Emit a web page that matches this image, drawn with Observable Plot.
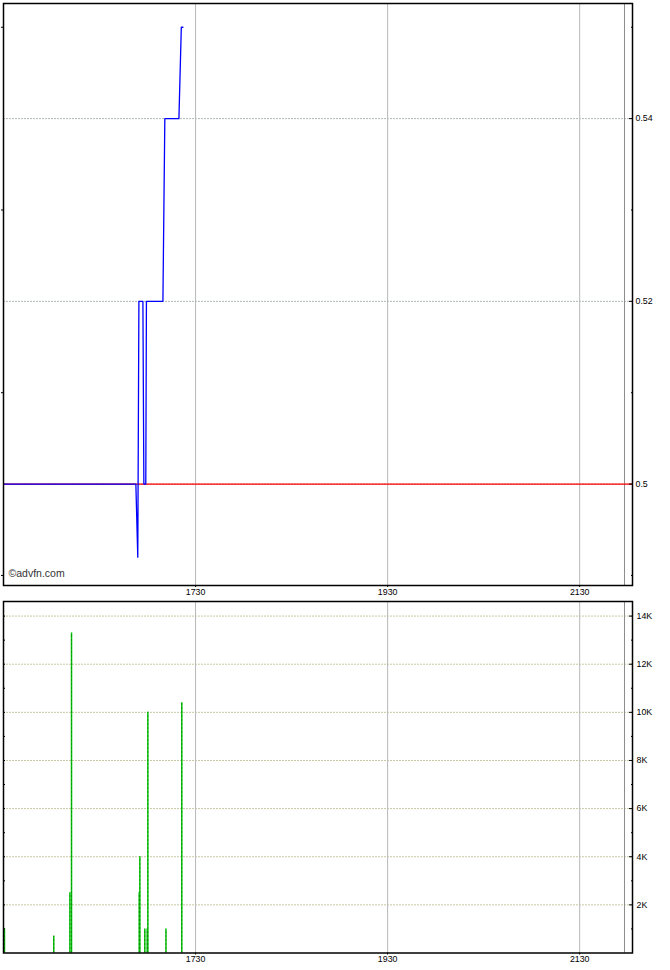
<!DOCTYPE html>
<html>
<head>
<meta charset="utf-8">
<script src="https://cdn.jsdelivr.net/npm/d3@7"></script>
<script src="https://cdn.jsdelivr.net/npm/@observablehq/plot@0.6"></script>
<style>
  html, body { margin: 0; padding: 0; background: #fff; }
  #chart svg { display: block; overflow: visible; }
</style>
</head>
<body>
<div id="chart"></div>
<script>
// ---- Data (time as minutes since midnight) ----
const priceTimes = [930, 1012.7, 1013.9, 1014.6, 1017.1, 1017.7, 1018.9, 1019.3, 1029.6, 1030.8, 1039.6, 1041.1, 1042.1];
const prices     = [0.50, 0.50, 0.492, 0.52, 0.52, 0.50, 0.50, 0.52, 0.52, 0.54, 0.54, 0.55, 0.55];
const prevClose  = 0.50;

const volumeTimes = [930.6, 961.4, 971.5, 972.5, 1014.8, 1015.2, 1018.3, 1019.8, 1020.2, 1031.5, 1041.4];
const volumes     = [1000, 700, 2500, 13300, 2500, 4000, 1000, 1000, 10000, 1000, 10400];

const timeTicks   = [1050, 1170, 1290];           // 1730, 1930, 2130
const sessionEnd  = 1318;
const priceTicks  = [0.50, 0.52, 0.54];
const priceMinor  = [0.49, 0.51, 0.53, 0.55];
const volumeTicks = [2000, 4000, 6000, 8000, 10000, 12000, 14000];
const volumeMinor = [1000, 3000, 5000, 7000, 9000, 11000, 13000];

const xDomain = [930, 1323];
const priceDomain = [0.4889, 0.5526];
const volumeDomain = [0, 14606];

const priceRows = priceTimes.map((t, i) => ({t, p: prices[i]}));
const volumeRows = volumeTimes.map((t, i) => ({t, v: volumes[i]}));

const fmtTime = d => String(Math.floor(d / 60) * 100 + (d % 60));
const fmtVol = d => (d / 1000) + "K";
const blank = () => "";

const baseStyle = {fontFamily: "'Liberation Sans', Arial, sans-serif", fontSize: "8.8px", background: "#fff", overflow: "visible", color: "#000"};

const topPlot = Plot.plot({
  width: 670, height: 600,
  marginLeft: 3, marginRight: 38, marginTop: 3, marginBottom: 15,
  style: baseStyle,
  x: {domain: xDomain, label: null},
  y: {domain: priceDomain, label: null},
  marks: [
    Plot.gridY(priceTicks, {stroke: "#b0b8b8", strokeOpacity: 1, strokeDasharray: "2,1"}),
    Plot.gridX(timeTicks, {stroke: "#b8b8b8", strokeOpacity: 1}),
    Plot.ruleX([sessionEnd], {stroke: "#8c8c8c"}),
    Plot.ruleY([prevClose], {stroke: "#ff0000", strokeWidth: 1.3}),
    Plot.line(priceRows, {x: "t", y: "p", stroke: "#0000ff", strokeWidth: 1.3}),
    Plot.axisY(priceTicks, {anchor: "right", label: null, tickSize: 0, tickPadding: 3, tickFormat: d => String(d)}),
    Plot.axisY(priceTicks, {anchor: "right", label: null, tickSize: -4, tickFormat: blank}),
    Plot.axisY(priceMinor, {anchor: "right", label: null, tickSize: -2, tickFormat: blank}),
    Plot.axisY(priceMinor, {anchor: "left", label: null, tickSize: 2, tickFormat: blank}),
    Plot.axisX(timeTicks, {anchor: "bottom", label: null, tickSize: 2, tickPadding: 1, tickFormat: fmtTime}),
    Plot.frame({stroke: "#000", strokeWidth: 1.5}),
    Plot.text(["©advfn.com"], {frameAnchor: "bottom-left", dx: 5, dy: -9, textAnchor: "start", fontSize: 10.5, fill: "#333"})
  ]
});

const bottomPlot = Plot.plot({
  width: 670, height: 370,
  marginLeft: 3, marginRight: 38, marginTop: 1, marginBottom: 17.5,
  style: baseStyle,
  x: {domain: xDomain, label: null},
  y: {domain: volumeDomain, label: null},
  marks: [
    Plot.gridY(volumeTicks, {stroke: "#c8c8a4", strokeOpacity: 1, strokeDasharray: "2,1"}),
    Plot.gridX(timeTicks, {stroke: "#b8b8b8", strokeOpacity: 1}),
    Plot.ruleX([sessionEnd], {stroke: "#8c8c8c"}),
    Plot.ruleX(volumeRows, {x: "t", y1: 0, y2: "v", stroke: "#00c000", strokeWidth: 1.5}),
    Plot.ruleX(volumeRows, {x: "t", y1: 0, y2: "v", stroke: "#005500", strokeWidth: 1, strokeDasharray: "1,3", strokeOpacity: 0.7}),
    Plot.axisY(volumeTicks, {anchor: "right", label: null, tickSize: 0, tickPadding: 4, tickFormat: fmtVol}),
    Plot.axisY(volumeTicks, {anchor: "right", label: null, tickSize: -4, tickFormat: blank}),
    Plot.axisY(volumeMinor, {anchor: "right", label: null, tickSize: -2, tickFormat: blank}),
    Plot.axisY(volumeTicks.concat(volumeMinor), {anchor: "left", label: null, tickSize: -2, tickFormat: blank}),
    Plot.axisX(timeTicks, {anchor: "bottom", label: null, tickSize: 2, tickPadding: 1, tickFormat: fmtTime}),
    Plot.frame({stroke: "#000", strokeWidth: 1.5})
  ]
});

const root = document.getElementById("chart");
root.appendChild(topPlot);
root.appendChild(bottomPlot);
</script>
</body>
</html>
